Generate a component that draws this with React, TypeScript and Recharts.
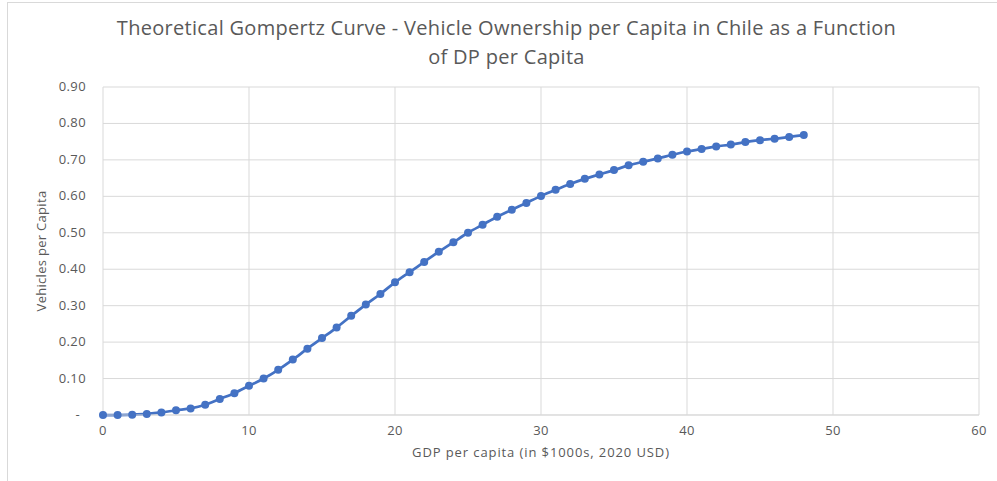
import { LineChart, Line, XAxis, YAxis, CartesianGrid } from 'recharts';

const GDP_THOUSANDS = [
  0, 1, 2, 3, 4, 5, 6, 7, 8, 9, 10, 11, 12, 13, 14, 15, 16, 17, 18, 19, 20, 21, 22, 23, 24,
  25, 26, 27, 28, 29, 30, 31, 32, 33, 34, 35, 36, 37, 38, 39, 40, 41, 42, 43, 44, 45, 46, 47, 48,
];

const VEHICLES_PER_CAPITA = [
  0.0, 0.0, 0.001, 0.003, 0.007, 0.013, 0.018, 0.028, 0.044, 0.06, 0.08, 0.1, 0.124, 0.152,
  0.182, 0.211, 0.24, 0.272, 0.303, 0.332, 0.364, 0.392, 0.42, 0.448, 0.474, 0.5, 0.522, 0.544,
  0.563, 0.582, 0.601, 0.618, 0.634, 0.648, 0.66, 0.672, 0.685, 0.695, 0.704, 0.714, 0.723,
  0.73, 0.737, 0.742, 0.749, 0.754, 0.758, 0.763, 0.768,
];

const X_TICKS = [0, 10, 20, 30, 40, 50, 60];
const Y_TICKS = [0, 0.1, 0.2, 0.3, 0.4, 0.5, 0.6, 0.7, 0.8, 0.9];

const TITLE_LINES = [
  'Theoretical Gompertz Curve - Vehicle Ownership per Capita in Chile as a Function',
  'of DP per Capita',
];

const FONT = '"Open Sans", "Liberation Sans", sans-serif';
const TEXT_GRAY = '#595959';
const GRID = '#D9D9D9';
const BLUE = '#4472C4';

const AXIS_TEXT = { fill: TEXT_GRAY, fontSize: 13, fontFamily: FONT, letterSpacing: 0.4 };

const data = GDP_THOUSANDS.map((gdp, i) => ({ gdp, vehicles: VEHICLES_PER_CAPITA[i] }));

// accounting-style tick: zero shows as a dash set in from the right edge
function YTick({ x, y, payload }: any) {
  const zero = payload.value === 0;
  return (
    <text x={zero ? x - 6 : x} y={y} dy={4} textAnchor="end" {...AXIS_TEXT}>
      {zero ? '-' : payload.value.toFixed(2)}
    </text>
  );
}

export default function App() {
  return (
    <div style={{ position: 'fixed', left: 0, top: 0, width: 997, height: 481, background: '#fff' }}>
      <div
        style={{
          position: 'absolute',
          left: 7,
          top: 2,
          right: 0,
          bottom: 0,
          borderLeft: `1px solid ${GRID}`,
          borderTop: `1px solid ${GRID}`,
        }}
      />
      <div
        style={{
          position: 'absolute',
          left: 0,
          top: 13,
          width: 1013,
          textAlign: 'center',
          fontFamily: FONT,
          fontSize: 20,
          letterSpacing: 0.3,
          lineHeight: '29px',
          color: TEXT_GRAY,
        }}
      >
        {TITLE_LINES.map((line) => (
          <div key={line}>{line}</div>
        ))}
      </div>
      <LineChart
        width={997}
        height={481}
        data={data}
        margin={{ top: 87, right: 18, bottom: 16, left: 0 }}
        style={{ position: 'absolute', left: 0, top: 0 }}
      >
        <CartesianGrid stroke={GRID} strokeWidth={1} />
        <XAxis
          dataKey="gdp"
          type="number"
          domain={[0, 60]}
          ticks={X_TICKS}
          height={50}
          axisLine={{ stroke: GRID }}
          tickLine={false}
          tickMargin={5}
          tick={AXIS_TEXT}
          label={{
            value: 'GDP per capita (in $1000s, 2020 USD)',
            position: 'insideBottom',
            offset: 8,
            style: { ...AXIS_TEXT, letterSpacing: 0.9 },
          }}
        />
        <YAxis
          type="number"
          domain={[0, 0.9]}
          ticks={Y_TICKS}
          width={103}
          axisLine={false}
          tickLine={false}
          tickMargin={11}
          tick={<YTick />}
          label={{
            value: 'Vehicles per Capita',
            angle: -90,
            position: 'center',
            dx: -10,
            style: { ...AXIS_TEXT, letterSpacing: 0.3, textAnchor: 'middle' },
          }}
        />
        <Line
          dataKey="vehicles"
          type="monotone"
          stroke={BLUE}
          strokeWidth={2.75}
          dot={{ r: 4, fill: BLUE, stroke: BLUE, strokeWidth: 0 }}
          isAnimationActive={false}
        />
      </LineChart>
    </div>
  );
}
